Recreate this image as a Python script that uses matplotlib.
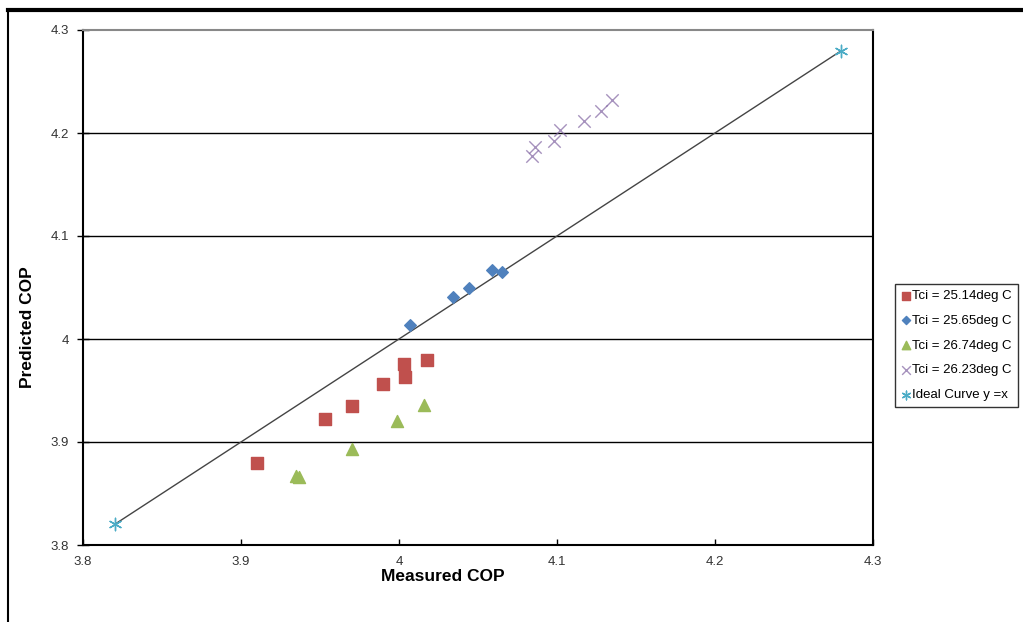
import matplotlib.pyplot as plt
from matplotlib.lines import Line2D

# data
red_x = [3.910, 3.953, 3.970, 3.990, 4.003, 4.004, 4.018]
red_y = [3.880, 3.922, 3.935, 3.956, 3.976, 3.963, 3.980]

blue_x = [4.007, 4.034, 4.044, 4.059, 4.065]
blue_y = [4.014, 4.041, 4.050, 4.067, 4.065]

green_x = [3.935, 3.937, 3.970, 3.999, 4.016]
green_y = [3.867, 3.866, 3.893, 3.920, 3.936]

purple_x = [4.084, 4.086, 4.098, 4.102, 4.117, 4.128, 4.135]
purple_y = [4.178, 4.186, 4.192, 4.203, 4.212, 4.221, 4.232]

ideal_x = [3.82, 4.28]
ideal_y = [3.82, 4.28]

labels = ['Tci = 25.14deg C', 'Tci = 25.65deg C', 'Tci = 26.74deg C',
          'Tci = 26.23deg C', 'Ideal Curve y =x']
xticks = [3.8, 3.9, 4.0, 4.1, 4.2, 4.3]
yticks = [3.8, 3.9, 4.0, 4.1, 4.2, 4.3]
tick_labels = ['3.8', '3.9', '4', '4.1', '4.2', '4.3']

plt.rcParams['font.family'] = ['Liberation Sans', 'DejaVu Sans']

fig = plt.figure(figsize=(10.23, 6.22), dpi=100)
ax = fig.add_axes([83 / 1023, 1 - 545 / 622, 790 / 1023, 515 / 622])

for y in yticks[1:-1]:
    ax.axhline(y, color='black', lw=1.0, zorder=1)

ax.plot(ideal_x, ideal_y, color='#444444', lw=1.0, zorder=2)
ax.scatter(red_x, red_y, marker='s', s=70, color='#c0504d', label=labels[0], zorder=3)
ax.scatter(blue_x, blue_y, marker='D', s=35, color='#4f81bd', label=labels[1], zorder=3)
ax.scatter(green_x, green_y, marker='^', s=75, color='#9bbb59', label=labels[2], zorder=3)
ax.scatter(purple_x, purple_y, marker='x', s=80, color='#8064a2', alpha=0.7, lw=1.0,
           label=labels[3], zorder=3)
ax.scatter(ideal_x, ideal_y, marker=(6, 2, 0), s=80, color='#4bacc6', lw=1.0,
           label=labels[4], zorder=3)

ax.set_xlim(3.8, 4.3)
ax.set_ylim(3.8, 4.3)
ax.set_xticks(xticks)
ax.set_xticklabels(tick_labels)
ax.set_yticks(yticks)
ax.set_yticklabels(tick_labels)
ax.tick_params(labelsize=9.5, colors='black', labelcolor='#333333', length=4, width=1)
ax.tick_params(axis='y', direction='inout', length=8, pad=6)
ax.tick_params(axis='x', direction='in', pad=8)

for side in ['left', 'bottom', 'right']:
    ax.spines[side].set_color('black')
    ax.spines[side].set_linewidth(1.5)
ax.spines['top'].set_color('#888888')
ax.spines['top'].set_linewidth(1.5)

ax.set_xlabel('Measured COP', fontsize=12.5, fontweight='bold')
ax.xaxis.set_label_coords(0.456, -0.047)
ax.set_ylabel('Predicted COP', fontsize=12.5, fontweight='bold')
ax.yaxis.set_label_coords(-0.061, 0.423)

fig.legend(loc='upper left', bbox_to_anchor=(895 / 1023, 1 - 284 / 622),
           fontsize=9.5, frameon=True, fancybox=False, edgecolor='black',
           handletextpad=0.05, handlelength=0.8, labelspacing=0.95, borderpad=0.45,
           markerscale=0.7, borderaxespad=0)

# figure border (top and left only)
fig.add_artist(Line2D([8 / 1023, 1], [1 - 10 / 622, 1 - 10 / 622], color='black', lw=3))
fig.add_artist(Line2D([8 / 1023, 8 / 1023], [0, 1 - 10 / 622], color='black', lw=1.5))

fig.savefig('out.png', dpi=100)
